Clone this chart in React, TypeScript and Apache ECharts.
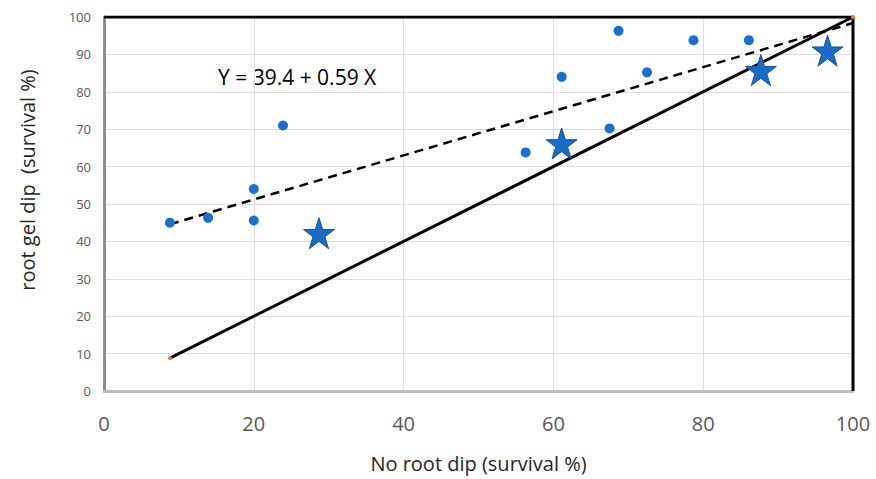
import React, { useEffect, useRef } from "react";
import * as echarts from "echarts";

// Observed survival (%) for each trial: no root dip (x) vs root gel dip (y)
const circleX = [8.8, 13.9, 20, 20, 23.9, 56.3, 61.1, 67.5, 68.7, 72.5, 78.7, 86.1];
const circleY = [45, 46.3, 54, 45.6, 71, 63.8, 84, 70.2, 96.3, 85.2, 93.8, 93.8];

// Highlighted trials
const starX = [28.7, 61.1, 87.7, 96.6];
const starY = [42.2, 66.2, 85.8, 91];

// Regression fit: Y = 39.4 + 0.59 X
const fitIntercept = 39.4;
const fitSlope = 0.59;
const fitRange = [8.8, 100];

// 1:1 reference line
const oneToOne = [
  [8.8, 8.8],
  [100, 100],
];

// Top and right edges of the plot frame
const frame = [
  [0, 100],
  [100, 100],
  [100, 0],
];

const xTicks = [0, 20, 40, 60, 80, 100];
const yTicks = [0, 10, 20, 30, 40, 50, 60, 70, 80, 90, 100];

export default function App() {
  const ref = useRef<HTMLDivElement>(null);

  useEffect(() => {
    if (!ref.current) return;
    const chart = echarts.init(ref.current, undefined, { renderer: "svg" });

    const fitLine = fitRange.map((x) => [x, +(fitIntercept + fitSlope * x).toFixed(2)]);

    chart.setOption({
      animation: false,
      backgroundColor: "#ffffff",
      grid: { left: 104, right: 23, top: 17, bottom: 88 },
      xAxis: {
        type: "value",
        min: xTicks[0],
        max: xTicks[xTicks.length - 1],
        interval: 20,
        name: "No root dip (survival %)",
        nameLocation: "middle",
        nameGap: 62,
        nameTextStyle: { fontSize: 20, color: "#262626", fontFamily: "Open Sans" },
        axisLine: { show: true, lineStyle: { color: "#bfbfbf", width: 3 } },
        axisTick: { show: false },
        axisLabel: { fontSize: 20, color: "#595959", margin: 22, fontFamily: "Open Sans" },
        splitLine: { show: true, lineStyle: { color: "#dedede", width: 1 } },
      },
      yAxis: {
        type: "value",
        min: yTicks[0],
        max: yTicks[yTicks.length - 1],
        interval: 10,
        axisLine: { show: true, lineStyle: { color: "#8c8c8c", width: 3 } },
        axisTick: { show: false },
        axisLabel: { fontSize: 13, color: "#595959", margin: 13, fontFamily: "Open Sans" },
        splitLine: { show: true, lineStyle: { color: "#dedede", width: 1 } },
      },
      graphic: [
        {
          type: "text",
          left: 218,
          top: 66,
          style: {
            text: "Y = 39.4 + 0.59 X",
            fontSize: 21,
            fill: "#000000",
            fontFamily: "Open Sans",
          },
        },
        {
          type: "text",
          x: 27,
          y: 180,
          rotation: Math.PI / 2,
          style: {
            text: "root gel dip  (survival %)",
            fontSize: 20,
            fill: "#262626",
            fontFamily: "Open Sans",
            align: "center",
            verticalAlign: "middle",
          },
        },
      ],
      series: [
        {
          type: "line",
          data: frame,
          symbol: "none",
          lineStyle: { color: "#000000", width: 3 },
          silent: true,
          z: 1,
        },
        {
          type: "line",
          data: oneToOne,
          symbol: "circle",
          symbolSize: 4,
          itemStyle: { color: "#ed7d31" },
          lineStyle: { color: "#000000", width: 3 },
          z: 2,
        },
        {
          type: "line",
          data: fitLine,
          symbol: "none",
          lineStyle: { color: "#000000", width: 2.5, type: [9, 6] },
          z: 3,
        },
        {
          type: "scatter",
          data: circleX.map((x, i) => [x, circleY[i]]),
          symbol: "circle",
          symbolSize: 10,
          itemStyle: { color: "#1a6fc9", opacity: 1 },
          z: 4,
        },
        {
          type: "scatter",
          data: starX.map((x, i) => [x, starY[i]]),
          symbol:
            "path://M50,0 L61.8,36.2 L100,36.2 L69.1,58.6 L80.9,95.1 L50,72.7 L19.1,95.1 L30.9,58.6 L0,36.2 L38.2,36.2 Z",
          symbolSize: 31,
          itemStyle: { color: "#1a6bc2", borderColor: "#14549a", borderWidth: 1, opacity: 1 },
          z: 5,
        },
      ],
    });

    return () => chart.dispose();
  }, []);

  return (
    <div
      ref={ref}
      style={{ position: "fixed", left: 0, top: 0, width: 876, height: 479 }}
    />
  );
}
